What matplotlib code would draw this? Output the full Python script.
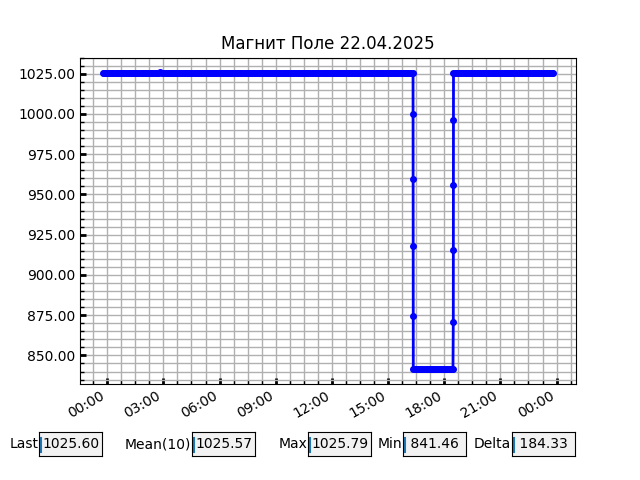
import matplotlib
matplotlib.use("Agg")
import matplotlib.pyplot as plt
import matplotlib.dates as mdates
from matplotlib.ticker import AutoMinorLocator, FormatStrFormatter
from matplotlib.widgets import TextBox
import pandas as pd

title = "Магнит Поле 22.04.2025"

# before the drop, every 5 min from 23:45 of the previous day
high1_start = "2025-04-21 23:45"
high1_vals = [
    1025.62, 1025.63, 1025.61, 1025.62, 1025.64, 1025.63, 1025.62, 1025.61, 1025.63, 1025.62,
    1025.64, 1025.63, 1025.65, 1025.64, 1025.62, 1025.63, 1025.65, 1025.66, 1025.64, 1025.65,
    1025.66, 1025.67, 1025.65, 1025.66, 1025.68, 1025.67, 1025.66, 1025.68, 1025.69, 1025.67,
    1025.68, 1025.70, 1025.69, 1025.71, 1025.70, 1025.72, 1025.74, 1025.79, 1025.73, 1025.71,
    1025.70, 1025.69, 1025.71, 1025.70, 1025.68, 1025.69, 1025.70, 1025.68, 1025.67, 1025.69,
    1025.68, 1025.66, 1025.67, 1025.65, 1025.66, 1025.64, 1025.65, 1025.63, 1025.64, 1025.62,
    1025.63, 1025.64, 1025.62, 1025.63, 1025.65, 1025.64, 1025.66, 1025.65, 1025.67, 1025.66,
    1025.68, 1025.67, 1025.69, 1025.70, 1025.68, 1025.71, 1025.72, 1025.70, 1025.71, 1025.73,
    1025.72, 1025.70, 1025.71, 1025.69, 1025.68, 1025.69, 1025.67, 1025.66, 1025.65, 1025.66,
    1025.64, 1025.63, 1025.64, 1025.62, 1025.61, 1025.62, 1025.60, 1025.61, 1025.59, 1025.60,
    1025.58, 1025.59, 1025.57, 1025.58, 1025.56, 1025.57, 1025.58, 1025.56, 1025.55, 1025.57,
    1025.56, 1025.55, 1025.56, 1025.54, 1025.55, 1025.56, 1025.54, 1025.53, 1025.55, 1025.54,
    1025.53, 1025.54, 1025.52, 1025.53, 1025.54, 1025.52, 1025.53, 1025.55, 1025.54, 1025.53,
    1025.54, 1025.55, 1025.53, 1025.54, 1025.56, 1025.55, 1025.54, 1025.56, 1025.57, 1025.55,
    1025.56, 1025.57, 1025.55, 1025.56, 1025.58, 1025.57, 1025.56, 1025.58, 1025.57, 1025.59,
    1025.58, 1025.57, 1025.59, 1025.58, 1025.60, 1025.59, 1025.58, 1025.60, 1025.61, 1025.59,
    1025.60, 1025.61, 1025.59, 1025.60, 1025.62, 1025.61, 1025.60, 1025.62, 1025.61, 1025.63,
    1025.62, 1025.61, 1025.63, 1025.62, 1025.60, 1025.61, 1025.62, 1025.60, 1025.61, 1025.62,
    1025.61, 1025.60, 1025.62, 1025.61, 1025.63, 1025.62, 1025.60, 1025.61, 1025.62, 1025.60,
    1025.61, 1025.62, 1025.60, 1025.61, 1025.59, 1025.60, 1025.61, 1025.60, 1025.60,
]

drop_times = ["2025-04-22 16:20:00", "2025-04-22 16:20:10", "2025-04-22 16:20:20",
              "2025-04-22 16:20:30", "2025-04-22 16:20:40", "2025-04-22 16:20:50"]
drop_vals = [1025.60, 1000.1, 959.8, 917.9, 874.3, 841.52]

# low level, every 5 min from 16:25
low_start = "2025-04-22 16:25"
low_vals = [
    841.50, 841.48, 841.47, 841.49, 841.51, 841.50, 841.46, 841.48, 841.49, 841.50,
    841.52, 841.51, 841.49, 841.48, 841.50, 841.47, 841.49, 841.51, 841.50, 841.48,
    841.49, 841.50, 841.52, 841.51, 841.50,
]

rise_times = ["2025-04-22 18:28:00", "2025-04-22 18:29:00", "2025-04-22 18:29:10",
              "2025-04-22 18:29:20", "2025-04-22 18:29:30", "2025-04-22 18:29:40"]
rise_vals = [841.50, 870.9, 915.2, 956.1, 996.3, 1025.48]

# after the rise, every 5 min from 18:35
high2_start = "2025-04-22 18:35"
high2_vals = [
    1025.48, 1025.50, 1025.51, 1025.52, 1025.51, 1025.53, 1025.54, 1025.53, 1025.55, 1025.54,
    1025.56, 1025.55, 1025.54, 1025.56, 1025.57, 1025.55, 1025.56, 1025.58, 1025.57, 1025.56,
    1025.58, 1025.59, 1025.57, 1025.58, 1025.60, 1025.59, 1025.58, 1025.60, 1025.61, 1025.59,
    1025.60, 1025.58, 1025.59, 1025.57, 1025.58, 1025.60, 1025.59, 1025.57, 1025.58, 1025.56,
    1025.57, 1025.58, 1025.56, 1025.57, 1025.55, 1025.56, 1025.58, 1025.57, 1025.56, 1025.58,
    1025.57, 1025.55, 1025.56, 1025.57,
    1025.55, 1025.58, 1025.56, 1025.54, 1025.57, 1025.59, 1025.55, 1025.56, 1025.60, 1025.60,
]

times = (list(pd.date_range(high1_start, periods=len(high1_vals), freq="5min"))
         + list(pd.to_datetime(drop_times))
         + list(pd.date_range(low_start, periods=len(low_vals), freq="5min"))
         + list(pd.to_datetime(rise_times))
         + list(pd.date_range(high2_start, periods=len(high2_vals), freq="5min")))
values = high1_vals + drop_vals + low_vals + rise_vals + high2_vals

fig = plt.figure(figsize=(6.4, 4.8), dpi=100)
ax = fig.add_subplot(111)
ax.plot(times, values, color="blue", marker="o", markersize=4, linewidth=2)
ax.set_title(title)

ax.xaxis.set_major_locator(mdates.HourLocator(byhour=range(0, 24, 3)))
ax.xaxis.set_major_formatter(mdates.DateFormatter("%H:%M"))
ax.xaxis.set_minor_locator(AutoMinorLocator(4))
ax.yaxis.set_major_formatter(FormatStrFormatter("%.2f"))
ax.yaxis.set_minor_locator(AutoMinorLocator(5))
ax.grid(which="both", color="#b0b0b0", linewidth=1)
ax.tick_params(which="major", direction="in", length=4, width=2)
ax.tick_params(which="minor", direction="in", length=3, width=1)
fig.autofmt_xdate()

# info boxes under the chart
last = values[-1]
mean10 = sum(values[-10:]) / 10
vmax = max(values)
vmin = min(values)
delta = vmax - vmin

boxes = [("Last", last, 0.061), ("Mean(10)", mean10, 0.300),
         ("Max", vmax, 0.481), ("Min", vmin, 0.630), ("Delta", delta, 0.800)]
widgets = []
for label, val, left in boxes:
    bax = fig.add_axes([left, 0.05, 0.098, 0.05])
    tb = TextBox(bax, label, initial="%7.2f" % val)
    bax.plot([0.035, 0.035], [0.17, 0.75], color="C0", linewidth=1.5)
    widgets.append(tb)

fig.savefig("out.png")
